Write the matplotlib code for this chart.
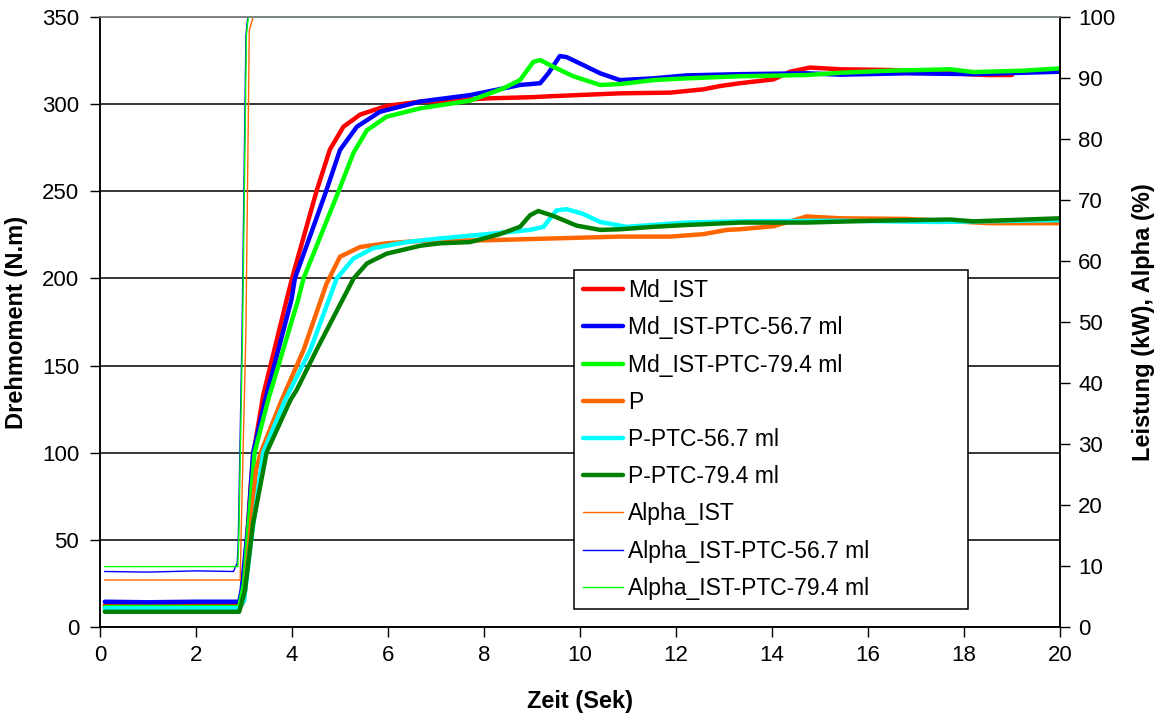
import matplotlib
matplotlib.use("Agg")
import matplotlib.pyplot as plt

plt.rcParams['font.family'] = ['Liberation Sans', 'DejaVu Sans']

# ---- Drehmoment (N.m), left axis ----
md_ist_x = [0.1, 1.0, 2.0, 2.9, 2.95, 3.05, 3.15, 3.2, 3.4, 3.9, 4.0, 4.51, 4.79, 5.07, 5.42,
            5.97, 6.67, 7.3, 8.06, 9.0, 9.44, 10.83, 11.88, 12.57, 12.92, 13.33, 14.03, 14.38,
            14.79, 15.42, 16.46, 17.5, 18.47, 19.0]
md_ist_y = [12.5, 12.5, 12.5, 12.6, 18, 45, 85, 100, 133, 189, 200, 250, 274, 287, 294,
            299, 301.4, 302, 303.3, 304, 304.6, 306.2, 306.6, 308.5, 310.4, 312, 314.2, 318.6,
            321, 320, 319.6, 318, 316.7, 316.7]

md_567_x = [0.1, 1.0, 2.0, 2.9, 2.95, 3.09, 3.19, 3.44, 3.99, 4.06, 4.71, 5.0, 5.35, 5.83,
            6.67, 7.71, 8.4, 8.75, 9.17, 9.34, 9.58, 9.72, 10.07, 10.42, 10.83, 11.53, 12.22,
            13.33, 14.72, 15.42, 16.8, 18.2, 20.0]
md_567_y = [14.5, 14.2, 14.5, 14.5, 21, 59.5, 100, 130, 188, 200, 250, 273.7, 287, 295.6,
            301.5, 305.2, 309, 311, 312, 317.7, 327.6, 327, 322.4, 317.7, 313.8, 314.8, 316.5,
            317.2, 317.7, 316.9, 317.7, 317.2, 318.6]

md_794_x = [0.1, 1.0, 2.0, 2.9, 3.0, 3.1, 3.22, 3.5, 4.13, 4.24, 4.97, 5.28, 5.56, 5.97,
            6.67, 7.0, 7.71, 8.4, 8.75, 9.03, 9.17, 9.44, 9.86, 10.42, 10.83, 11.53, 12.22,
            13.33, 14.72, 15.42, 16.46, 17.71, 18.2, 19.24, 20.0]
md_794_y = [11.5, 11.5, 11.5, 11.5, 25, 60, 100, 130, 188, 200, 250, 272, 285, 292.8,
            297.6, 299, 302, 309, 313.8, 324.3, 325.3, 321.5, 316, 311, 311.5, 313.8, 314.8,
            316, 316.7, 318, 319.2, 320, 318.4, 319.2, 320.5]

# ---- Leistung (kW), right axis ----
p_ist_x = [0.1, 2.9, 3.0, 3.1, 3.25, 3.35, 3.78, 4.24, 4.72, 5.0, 5.42, 5.97, 6.67, 8.06,
           9.44, 10.83, 11.88, 12.57, 13.06, 13.33, 14.03, 14.72, 15.42, 16.8, 18.54, 20.0]
p_ist_y = [2.9, 2.9, 4.3, 12.9, 25.7, 28.6, 37.1, 45.4, 56.3, 60.7, 62.3, 62.9, 63.3, 63.4,
           63.7, 64.0, 64.0, 64.4, 65.1, 65.2, 65.7, 67.3, 67.0, 66.9, 66.2, 66.2]

p_567_x = [0.1, 2.9, 3.0, 3.15, 3.4, 3.85, 4.38, 4.93, 5.28, 5.69, 6.39, 7.08, 8.06, 8.96,
           9.24, 9.51, 9.72, 10.07, 10.42, 10.97, 12.22, 13.33, 15.42, 17.5, 20.0]
p_567_y = [3.06, 3.06, 4.3, 14.3, 28.6, 37.1, 45.4, 57.1, 60.4, 62.1, 63.1, 63.7, 64.4, 65.1,
           65.6, 68.3, 68.5, 67.7, 66.4, 65.6, 66.3, 66.5, 66.6, 66.4, 66.7]

p_794_x = [0.1, 2.9, 3.02, 3.19, 3.47, 3.96, 4.1, 4.51, 5.28, 5.56, 5.97, 6.67, 7.08, 7.71,
           8.33, 8.75, 8.96, 9.13, 9.44, 9.93, 10.42, 10.83, 11.53, 12.22, 13.33, 14.72,
           16.1, 17.71, 18.2, 20.0]
p_794_y = [2.5, 2.5, 6.0, 17.0, 28.6, 37.1, 38.9, 45.4, 57.1, 59.6, 61.2, 62.5, 62.9, 63.1,
           64.4, 65.6, 67.5, 68.2, 67.4, 65.8, 65.1, 65.2, 65.6, 65.9, 66.3, 66.3,
           66.6, 66.8, 66.5, 67.0]

# ---- Alpha (%), right axis ----
alpha_ist_x = [0.1, 2.92, 2.94, 3.04, 3.11, 3.19, 20.0]
alpha_ist_y = [7.7, 7.7, 15, 48.6, 97.8, 100, 100]

alpha_567_x = [0.1, 1.0, 2.0, 2.78, 2.86, 2.88, 2.96, 3.04, 3.08, 20.0]
alpha_567_y = [9.1, 9.0, 9.2, 9.1, 10.5, 14, 48.6, 97, 100, 100]

alpha_794_x = [0.1, 2.87, 2.89, 2.97, 3.05, 3.09, 20.0]
alpha_794_y = [9.9, 9.9, 14, 48.6, 97, 100, 100]

fig = plt.figure(figsize=(11.57, 7.18), dpi=100)
ax = fig.add_axes([100 / 1157, 1 - 627 / 718, 960 / 1157, 610 / 718])
ax2 = ax.twinx()

thick = 3.2
thin = 1.0
kw = dict(solid_joinstyle='round', solid_capstyle='round')
l1, = ax.plot(md_ist_x, md_ist_y, color='#FF0000', lw=thick, label='Md_IST', **kw)
l2, = ax.plot(md_567_x, md_567_y, color='#0000FF', lw=thick, label='Md_IST-PTC-56.7 ml', **kw)
l3, = ax.plot(md_794_x, md_794_y, color='#00FF00', lw=thick, label='Md_IST-PTC-79.4 ml', **kw)
l4, = ax2.plot(p_ist_x, p_ist_y, color='#FF6600', lw=thick, label='P', **kw)
l5, = ax2.plot(p_567_x, p_567_y, color='#00FFFF', lw=thick, label='P-PTC-56.7 ml', **kw)
l6, = ax2.plot(p_794_x, p_794_y, color='#008000', lw=thick, label='P-PTC-79.4 ml', **kw)
l7, = ax2.plot(alpha_ist_x, alpha_ist_y, color='#FF6600', lw=thin, label='Alpha_IST')
l8, = ax2.plot(alpha_567_x, alpha_567_y, color='#0000FF', lw=thin, label='Alpha_IST-PTC-56.7 ml')
l9, = ax2.plot(alpha_794_x, alpha_794_y, color='#00FF00', lw=thin, label='Alpha_IST-PTC-79.4 ml')

ax.set_xlim(0, 20)
ax.set_ylim(0, 350)
ax2.set_ylim(0, 100)
ax.set_xticks(range(0, 21, 2))
ax.set_yticks(range(0, 351, 50))
ax2.set_yticks(range(0, 101, 10))

ax.yaxis.grid(True, color='black', lw=1.1)
ax.set_axisbelow(True)

for a in (ax, ax2):
    a.tick_params(direction='out', length=7, width=1, labelsize=16)
    for s in a.spines.values():
        s.set_linewidth(1.1)
    a.spines['top'].set_color('#808080')
ax.tick_params(axis='y', pad=8)
ax.tick_params(axis='x', pad=6)
ax2.tick_params(axis='y', pad=6)

lab_font = dict(fontsize=17, fontweight='bold')
ax.set_xlabel('Zeit (Sek)', labelpad=17, **lab_font)
ax.set_ylabel('Drehmoment (N.m)', labelpad=10, **lab_font)
ax2.set_ylabel('Leistung (kW), Alpha (%)', labelpad=12, **lab_font)

handles = [l1, l2, l3, l4, l5, l6, l7, l8, l9]
leg = ax2.legend(handles=handles, loc='upper left',
                 bbox_to_anchor=(0.4938, 0.041, 0.4104, 0.5442), mode='expand',
                 borderaxespad=0, fancybox=False, framealpha=1, edgecolor='black',
                 fontsize=16.5, handlelength=1.75, labelspacing=0.62, handletextpad=0.2,
                 borderpad=0.4)
leg.get_frame().set_linewidth(1.1)

fig.savefig('out.png', dpi=100)
